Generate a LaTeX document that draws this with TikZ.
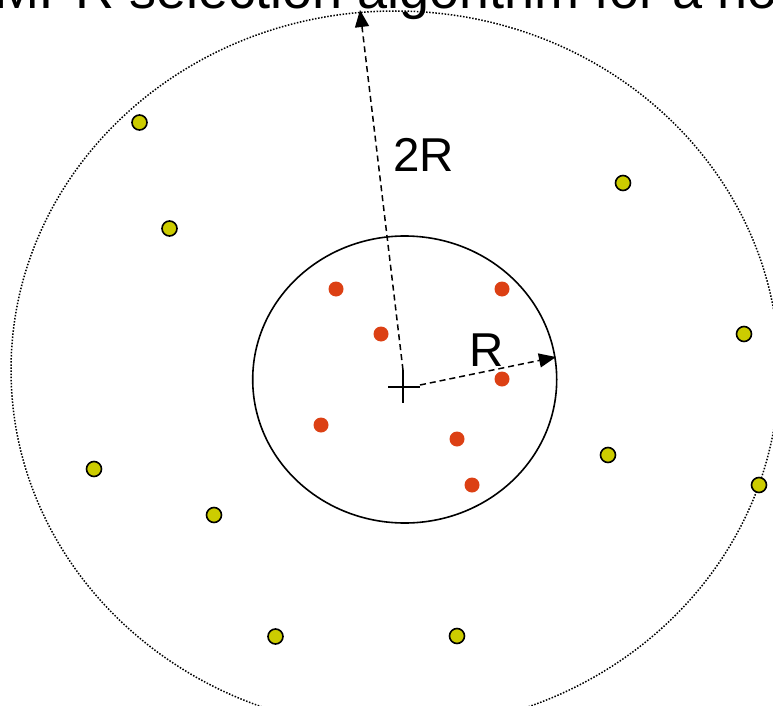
\documentclass[tikz,border=0pt]{standalone}
\usepackage{fontspec}
\setmainfont{Liberation Sans}
\usetikzlibrary{arrows.meta}
\definecolor{ydot}{RGB}{204,204,0}
\definecolor{rdot}{RGB}{220,64,20}
\tikzset{
  ynode/.style={circle,fill=ydot,draw=black,line width=1.6pt,minimum size=15pt,inner sep=0pt},
  rnode/.style={circle,fill=rdot,minimum size=15pt,inner sep=0pt},
  radarrow/.style={dash pattern=on 6pt off 4pt,line width=1.5pt,-{Triangle[length=17pt,width=14pt]}},
  lbl/.style={inner sep=0pt,font=\fontsize{47.5}{57}\selectfont}
}
\begin{document}
\begin{tikzpicture}[x=1pt,y=-1pt]
\useasboundingbox (0,0) rectangle (773,706);
% title (cut by the page edge, as in the reference)
\node[anchor=base west,inner sep=0pt,font=\fontsize{54}{64}\selectfont] (title) at (-6,8.5) {MPR selection algorithm for a node};
% circles
\draw[dash pattern=on 1.5pt off 1.6pt,line width=1.5pt] (395,370) ellipse [x radius=384,y radius=359];
\draw[line width=1.6pt] (404.7,379.5) ellipse [x radius=152,y radius=143.5];
% centre mark
\coordinate (c) at (403,387);
\coordinate (cl) at (388,387);
\coordinate (cr) at (420,387);
\coordinate (ct) at (403,370);
\coordinate (cb) at (403,403);
\draw[line width=1.5pt] (cl) -- (cr);
\draw[line width=1.5pt] (ct) -- (cb);
% radius arrows
\coordinate (top2R) at (360,10);
\coordinate (rs) at (420,385);
\coordinate (rtip) at (556,357);
\draw[radarrow] (ct) -- (top2R);
\draw[radarrow] (rs) -- (rtip);
\node[lbl] (l2R) at (423.5,155) {2R};
\node[lbl] (lR) at (487,350) {R};
% one-hop neighbours
\node[rnode] (r1) at (336,289) {};
\node[rnode] (r2) at (502,289) {};
\node[rnode] (r3) at (381,334) {};
\node[rnode] (r4) at (502,379) {};
\node[rnode] (r5) at (321,425) {};
\node[rnode] (r6) at (457,439) {};
\node[rnode] (r7) at (472,485) {};
% two-hop neighbours
\node[ynode] (y1) at (139.5,122.5) {};
\node[ynode] (y2) at (169.5,228.5) {};
\node[ynode] (y3) at (623,183) {};
\node[ynode] (y4) at (744,334) {};
\node[ynode] (y5) at (94,469) {};
\node[ynode] (y6) at (214,515) {};
\node[ynode] (y7) at (608,455) {};
\node[ynode] (y8) at (759,485) {};
\node[ynode] (y9) at (275.5,636.5) {};
\node[ynode] (y10) at (457,636) {};
\end{tikzpicture}
\end{document}
